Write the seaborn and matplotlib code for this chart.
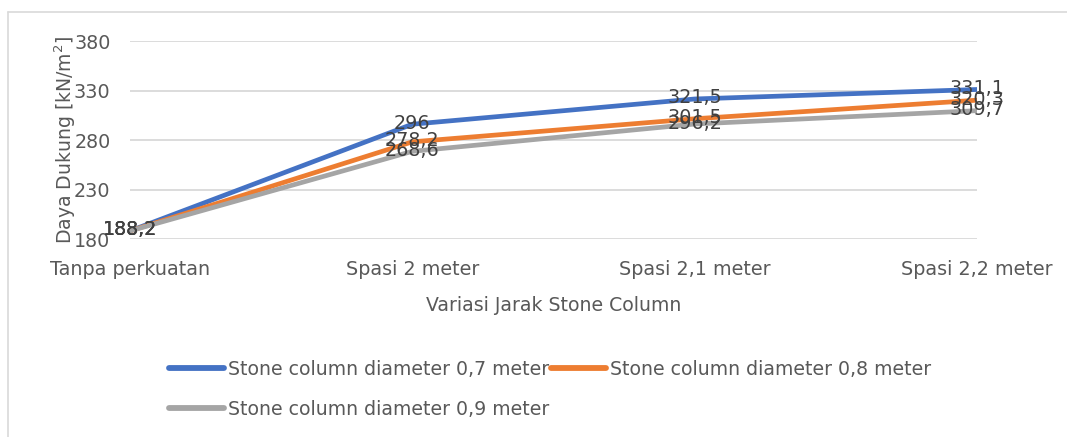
import pandas as pd
import matplotlib.pyplot as plt
import seaborn as sns
from matplotlib.lines import Line2D

categories = ['Tanpa perkuatan', 'Spasi 2 meter', 'Spasi 2,1 meter', 'Spasi 2,2 meter']
series_names = ['Stone column diameter 0,7 meter',
                'Stone column diameter 0,8 meter',
                'Stone column diameter 0,9 meter']
d07 = [188.2, 296, 321.5, 331.1]
d08 = [188.2, 278.2, 301.5, 320.3]
d09 = [188.2, 268.6, 296.2, 309.7]
colors = ['#4472C4', '#ED7D31', '#A5A5A5']

rows = []
for name, vals in zip(series_names, [d07, d08, d09]):
    for cat, v in zip(categories, vals):
        rows.append({'cat': cat, 'val': v, 'series': name})
data = pd.DataFrame(rows)

sns.set_style('white')
plt.rcParams['font.family'] = ['DejaVu Sans']

fig = plt.figure(figsize=(10.67, 4.37), dpi=100)
ax = fig.add_axes([0.1218, 0.453, 0.7939, 0.453])

sns.lineplot(data=data, x='cat', y='val', hue='series', palette=colors,
             sort=False, linewidth=3.4, ax=ax, legend=False)

# data labels centred on points
for name, vals in zip(series_names, [d07, d08, d09]):
    for i, v in enumerate(vals):
        txt = ('%.1f' % v).replace('.', ',')
        if txt.endswith(',0'):
            txt = txt[:-2]
        ax.text(i, v + 1, txt, ha='center', va='center', fontsize=13.8, color='#404040')

ax.set_ylim(180, 380)
ax.set_xlim(0, 3)
ax.set_yticks([180, 230, 280, 330, 380])
ax.grid(axis='y', color='#D9D9D9', linewidth=1.3)
ax.set_axisbelow(True)
for s in ax.spines.values():
    s.set_visible(False)
ax.tick_params(axis='both', length=0, labelsize=13.8, colors='#595959')
ax.tick_params(axis='x', pad=15)
ax.tick_params(axis='y', pad=14)
ax.set_xlabel('Variasi Jarak Stone Column', fontsize=13.6, color='#595959', labelpad=12)
ax.set_ylabel('Daya Dukung [kN/m$^2$]', fontsize=13.6, color='#595959', labelpad=-3)

# legend fills column-wise, so order handles to give row-wise layout
order = [0, 2, 1]
handles = [Line2D([], [], color=colors[i], linewidth=4.2, solid_capstyle='round') for i in order]
labels = [series_names[i] for i in order]
fig.legend(handles, labels, ncol=2, loc='upper left', bbox_to_anchor=(0.150, 0.198),
           frameon=False, fontsize=13.6, labelcolor='#595959', handlelength=2.9,
           handletextpad=0.2, columnspacing=0.1, labelspacing=1.1, borderpad=0)

# chart border
fig.add_artist(Line2D([7.5 / 1067, 7.5 / 1067], [0, 1 - 11.5 / 437], transform=fig.transFigure,
                      color='#D9D9D9', linewidth=1.2))
fig.add_artist(Line2D([7.5 / 1067, 1], [1 - 11.5 / 437, 1 - 11.5 / 437], transform=fig.transFigure,
                      color='#D9D9D9', linewidth=1.2))

fig.savefig('out.png', dpi=100)
